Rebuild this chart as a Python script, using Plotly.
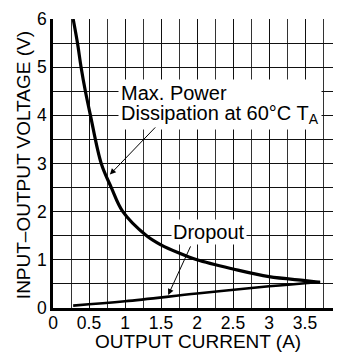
import plotly.graph_objects as go

# Data
power_current = [0.28, 0.34, 0.39, 0.45, 0.52, 0.67, 0.81, 0.97, 1.3, 1.5, 1.75, 2.0, 2.5, 3.0, 3.5, 3.71]
power_voltage = [6.0, 5.5, 5.0, 4.5, 4.0, 3.0, 2.5, 2.0, 1.5, 1.31, 1.14, 1.0, 0.81, 0.65, 0.57, 0.535]

dropout_current = [0.28, 1.0, 2.0, 3.0, 3.71]
dropout_voltage = [0.05, 0.14, 0.30, 0.45, 0.54]

x_ticks = [0, 0.5, 1, 1.5, 2, 2.5, 3, 3.5, 4]
x_tick_labels = ["0", "0.5", "1", "1.5", "2", "2.5", "3", "3.5", "4"]
y_ticks = [0, 1, 2, 3, 4, 5, 6]
y_tick_labels = ["0", "1", "2", "3", "4", "5", "6"]

x_title = "OUTPUT CURRENT (A)"
y_title = "INPUT\u2013OUTPUT VOLTAGE (V)"
power_label = "Max. Power<br>Dissipation at 60\u00b0C T<sub>A</sub>"
dropout_label = "Dropout"

FONT = "Liberation Sans, Arial, sans-serif"
TXT = 20

fig = go.Figure()
fig.add_trace(go.Scatter(x=power_current, y=power_voltage, mode="lines",
                         line=dict(color="black", width=3.2, shape="spline"),
                         showlegend=False, hoverinfo="skip"))
fig.add_trace(go.Scatter(x=dropout_current, y=dropout_voltage, mode="lines",
                         line=dict(color="black", width=2.6, shape="spline"),
                         showlegend=False, hoverinfo="skip"))

fig.update_xaxes(range=[0, 4], tickvals=x_ticks, ticktext=x_tick_labels,
                 showgrid=True, gridcolor="#111", gridwidth=1,
                 minor=dict(dtick=0.25, showgrid=True, gridcolor="#333", gridwidth=1, tick0=0),
                 showline=True, linecolor="black", linewidth=2.5,
                 zeroline=False, ticks="", ticklabelstandoff=-3,
                 ticklabeloverflow="allow",
                 tickfont=dict(family=FONT, size=17.5, color="black"),
                 automargin=False, fixedrange=True)
fig.update_yaxes(range=[0, 6], tickvals=y_ticks, ticktext=y_tick_labels,
                 showgrid=True, gridcolor="#111", gridwidth=1,
                 minor=dict(dtick=0.5, showgrid=True, gridcolor="#111", gridwidth=1, tick0=0),
                 showline=True, linecolor="black", linewidth=2.5,
                 zeroline=False, ticks="",
                 tickfont=dict(family=FONT, size=17.5, color="black"),
                 automargin=False, fixedrange=True)

# Axis titles
fig.add_annotation(x=0.505, y=-0.115, xref="paper", yref="paper", text=x_title,
                   showarrow=False, xanchor="center", yanchor="middle",
                   font=dict(family=FONT, size=19, color="black"))
fig.add_annotation(x=-0.102, y=0.493, xref="paper", yref="paper", text=y_title,
                   showarrow=False, xanchor="center", yanchor="middle", textangle=-90,
                   font=dict(family=FONT, size=19, color="black"))

# Power-dissipation label: tight line spacing (20px) with 20px glyphs
fig.add_annotation(x=2.315, y=4.23, xref="x", yref="y",
                   text='<span style="font-size:%dpx">%s</span>' % (TXT, power_label),
                   showarrow=False, align="left", bgcolor="white", borderpad=2,
                   font=dict(family=FONT, size=15.4, color="black"))
fig.add_annotation(x=2.16, y=1.57, xref="x", yref="y", text=dropout_label,
                   showarrow=False, bgcolor="white",
                   font=dict(family=FONT, size=TXT, color="black"))

# Arrows
fig.add_annotation(x=0.79, y=2.77, ax=1.44, ay=3.78, xref="x", yref="y",
                   axref="x", ayref="y", text="", showarrow=True,
                   arrowhead=2, arrowsize=1.2, arrowwidth=1, arrowcolor="black")
fig.add_annotation(x=1.60, y=0.27, ax=1.92, ay=1.31, xref="x", yref="y",
                   axref="x", ayref="y", text="", showarrow=True,
                   arrowhead=2, arrowsize=1.2, arrowwidth=1, arrowcolor="black")

# the page body adds an 8px offset, so the figure is 8px smaller than the window
fig.update_layout(width=333, height=348,
                  margin=dict(l=45, r=0, t=11, b=48),
                  plot_bgcolor="white", paper_bgcolor="white",
                  font=dict(family=FONT, color="black"))

fig.write_html("out.html", config={"displayModeBar": False})
